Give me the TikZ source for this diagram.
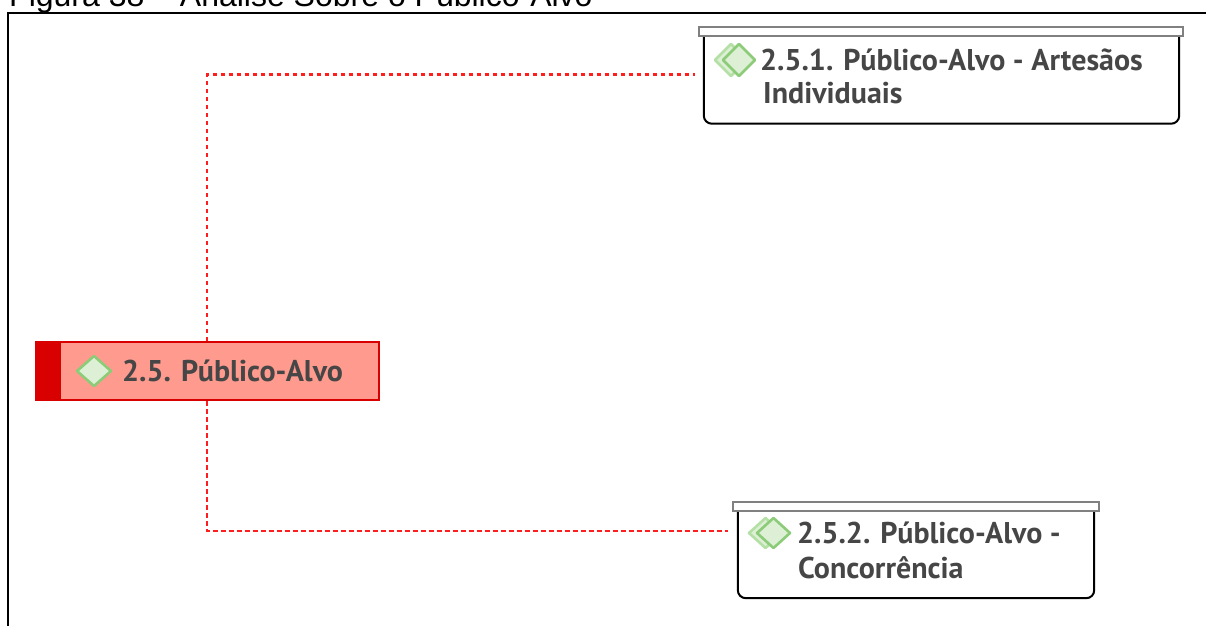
\documentclass[tikz,border=0pt]{standalone}
\usepackage{fontspec}
\setmainfont{PT Sans}
\newfontfamily\arialfont{Liberation Sans}
\definecolor{txtgray}{HTML}{464646}
\definecolor{rootfill}{HTML}{FF9A8E}
\definecolor{rootred}{HTML}{D80000}
\definecolor{dgreen}{HTML}{8CCB78}
\definecolor{lgreen}{HTML}{B4E0A6}
\definecolor{gfill}{HTML}{DDF0D6}
\definecolor{bargray}{HTML}{808080}
\definecolor{connred}{HTML}{FF1E1E}
\begin{document}
\begin{tikzpicture}[x=1pt,y=-1pt,
  conn/.style={draw=connred, line width=2.3pt, dash pattern=on 4.5pt off 3.5pt},
  lbl/.style={font=\fontsize{30}{33}\selectfont\bfseries, text=txtgray, anchor=base west, inner sep=0},
  topbar/.style={draw=bargray, line width=2pt, fill=white},
  body/.style={draw=black, line width=2pt, rounded corners=8pt},
  dia/.style={draw=dgreen, line width=2.6pt, fill=gfill, line join=round},
  diaback/.style={draw=lgreen, line width=2.6pt, fill=gfill, line join=round}
]
\useasboundingbox (0,0) rectangle (1206,625);
\clip (0,0) rectangle (1206,625);

% title (cut off at top) and frame
\node[font=\arialfont\fontsize{32}{32}\selectfont, anchor=base west, inner sep=0] (title) at (9,6) {Figura 38 – Análise Sobre o Público-Alvo};
\draw[line width=2pt] (8,626) -- (8,12.7) -- (1207,12.7);

% root node
\node[draw=rootred, line width=2pt, fill=rootfill, minimum width=343pt, minimum height=58pt, inner sep=0] (root) at (207,371) {};
\fill[rootred] (root.north west) rectangle ([xshift=26pt]root.south west);
\draw[dia] (77,371) -- (94,356) -- (111,371) -- (94,386) -- cycle;
\node[lbl] (roottxt) at (122,381) {2.5. Público-Alvo};

% child 1
\node[minimum width=475pt, minimum height=88pt, inner sep=0] (n1) at (941.5,79.5) {};
\draw[body] (n1.north west) |- (n1.south east) -- (n1.north east);
\draw[topbar] (699,26.5) rectangle (1183,35.5);
\draw[diaback] (715,60) -- (731,44) -- (747,60) -- (731,76) -- cycle;
\draw[dia] (723,60) -- (739,44) -- (755,60) -- (739,76) -- cycle;
\node[lbl] (t1a) at (760,70) {2.5.1. Público-Alvo - Artesãos};
\node[lbl] (t1b) at (763,103) {Individuais};

% child 2
\node[minimum width=356pt, minimum height=87pt, inner sep=0] (n2) at (916,554.5) {};
\draw[body] (n2.north west) |- (n2.south east) -- (n2.north east);
\draw[topbar] (733,502) rectangle (1099,511);
\draw[diaback] (749,533) -- (765.5,518) -- (782,533) -- (765.5,548) -- cycle;
\draw[dia] (757,533) -- (773.5,518) -- (790,533) -- (773.5,548) -- cycle;
\node[lbl] (t2a) at (797,543) {2.5.2. Público-Alvo -};
\node[lbl] (t2b) at (798,578) {Concorrência};

% connectors
\coordinate (c1) at (695,74.5);
\coordinate (c2) at (728,531);
\draw[conn] (root.north) |- (c1);
\draw[conn] (root.south) |- (c2);
\end{tikzpicture}
\end{document}
